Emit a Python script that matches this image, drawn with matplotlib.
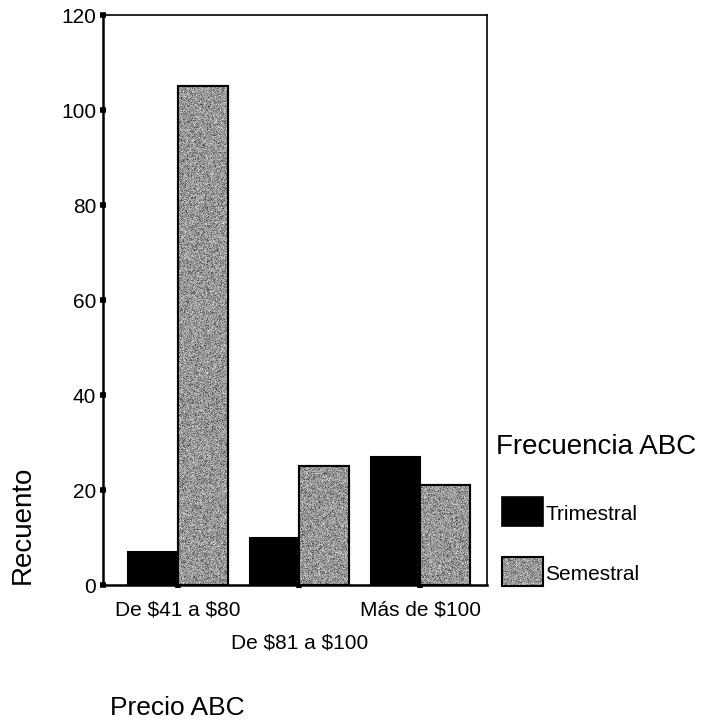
import numpy as np
import matplotlib
matplotlib.use("Agg")
import matplotlib.pyplot as plt
from matplotlib.patches import Rectangle
from matplotlib.transforms import ScaledTranslation

plt.rcParams['font.family'] = ['Liberation Sans', 'DejaVu Sans']

categories = ["De $41 a $80", "De $81 a $100", "Más de $100"]
series_names = ["Trimestral", "Semestral"]
trimestral = [7, 10, 27]
semestral = [105, 25, 21]
y_ticks = [0, 20, 40, 60, 80, 100, 120]

fig = plt.figure(figsize=(7.02, 7.25), dpi=100)
ax = fig.add_axes([0.1467, 0.1931, 0.547, 0.7862])

rng = np.random.default_rng(3)

def grain(h, w):
    base = rng.normal(0.60, 0.09, size=(h, w))
    specks = rng.random((h, w)) < 0.10
    base[specks] *= 0.6
    light = rng.random((h, w)) < 0.05
    base[light] = 0.8
    return np.clip(base, 0, 1)

x = np.arange(len(categories))
bw = 0.41
bars_t = ax.bar(x - bw / 2, trimestral, width=bw, color='black',
                edgecolor='black', linewidth=1.5, zorder=2)
bars_s = ax.bar(x + bw / 2, semestral, width=bw, color='#999999',
                edgecolor='black', linewidth=1.5, zorder=2)

# grainy fill on the gray bars
for b in bars_s:
    x0, y0 = b.get_x(), b.get_y()
    w, h = b.get_width(), b.get_height()
    img = grain(max(int(h * 4.75), 2), 50)
    ax.imshow(img, extent=(x0, x0 + w, y0, y0 + h), cmap='gray', vmin=0, vmax=1,
              aspect='auto', interpolation='nearest', zorder=2.5)
    ax.add_patch(Rectangle((x0, y0), w, h, fill=False, edgecolor='black',
                           linewidth=1.5, zorder=3))

ax.set_xlim(-0.62, 2.55)
ax.set_ylim(0, 120)
ax.set_yticks(y_ticks)
ax.set_xticks(x)
ax.set_xticklabels(categories, parse_math=False)

for s in ax.spines.values():
    s.set_linewidth(1.2)
ax.spines['left'].set_linewidth(1.8)
ax.spines['bottom'].set_linewidth(1.8)

ax.tick_params(axis='both', direction='inout', length=4, width=4, color='black',
               labelsize=15)
ax.tick_params(axis='y', pad=3)
ax.tick_params(axis='x', pad=9)

# stagger the middle category label
lab = ax.get_xticklabels()[1]
lab.set_transform(lab.get_transform() + ScaledTranslation(0, -0.33, fig.dpi_scale_trans))

fig.text(23 / 702, 1 - 525 / 725, "Recuento", rotation=90, fontsize=20,
         ha='center', va='center')
fig.text(110 / 702, 1 - 715 / 725, "Precio ABC", fontsize=19,
         ha='left', va='baseline')

# legend
fig.text(496 / 702, 1 - 447 / 725, "Frecuencia ABC", fontsize=20,
         ha='left', va='center')
lax = fig.add_axes([0, 0, 1, 1], zorder=5)
lax.set_xlim(0, 702)
lax.set_ylim(725, 0)
lax.axis('off')
lax.add_patch(Rectangle((502, 497), 41, 29, facecolor='black', edgecolor='black',
                        linewidth=1.2))
lax.imshow(grain(29, 41), extent=(502, 543, 586, 557), cmap='gray', vmin=0, vmax=1,
           aspect='auto', interpolation='nearest')
lax.add_patch(Rectangle((502, 557), 41, 29, fill=False, edgecolor='black',
                        linewidth=1.5))
lax.set_xlim(0, 702)
lax.set_ylim(725, 0)
lax.text(545, 515, series_names[0], fontsize=15, ha='left', va='center')
lax.text(545, 575, series_names[1], fontsize=15, ha='left', va='center')

fig.savefig("out.png", dpi=100)
